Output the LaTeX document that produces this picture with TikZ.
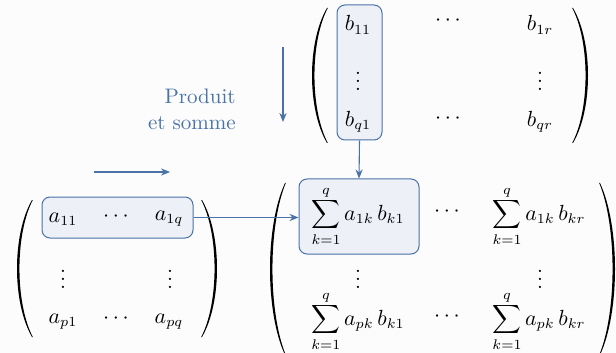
\documentclass[tikz,border=0pt]{standalone}
\usetikzlibrary{arrows.meta}
\definecolor{bl}{HTML}{4A72A6}
\definecolor{hl}{HTML}{EDF0F6}
\definecolor{bg}{HTML}{FCFCFD}
% left paren: #1 tip x, #2 top y, #3 bottom y
\newcommand\myLP[3]{%
  \fill (#1,#2) .. controls (#1-20,{#2+0.25*(#3-#2)}) and (#1-20,{#3-0.25*(#3-#2)}) .. (#1,#3)
    -- (#1+0.8,#3) .. controls (#1-17,{#3-0.25*(#3-#2)}) and (#1-17,{#2+0.25*(#3-#2)}) .. (#1+0.8,#2) -- cycle;}
\newcommand\myRP[3]{%
  \fill (#1,#2) .. controls (#1+20,{#2+0.25*(#3-#2)}) and (#1+20,{#3-0.25*(#3-#2)}) .. (#1,#3)
    -- (#1-0.8,#3) .. controls (#1+17,{#3-0.25*(#3-#2)}) and (#1+17,{#2+0.25*(#3-#2)}) .. (#1-0.8,#2) -- cycle;}
\begin{document}
\begin{tikzpicture}[x=0.5pt,y=-0.5pt,
  hlbox/.style={draw=bl, fill=hl, rounded corners=4pt, line width=0.5pt, inner sep=0pt},
  ent/.style={inner sep=0pt, font=\fontsize{10.5}{12}\selectfont},
  conn/.style={draw=bl, line width=0.55pt, -{Stealth[length=4.5pt,width=3.6pt]}},
  lbl/.style={text=bl, inner sep=0pt, align=right, font=\fontsize{10.5}{13}\selectfont},
  ]
\fill[bg] (0,0) rectangle (616,353);
\useasboundingbox (0,0) rectangle (616,353);

% highlight boxes
\node[hlbox, minimum width=75.5pt, minimum height=20.5pt] (rowA) at (117.5,217.5) {};
\node[hlbox, minimum width=22.5pt, minimum height=67.5pt] (colB) at (359.5,72.5) {};
\node[hlbox, minimum width=60pt, minimum height=37.5pt] (sumC) at (359,216.5) {};

% matrix A
\node[ent] (a11) at (63,219) {$a_{11}$};
\node[ent] (ad1) at (116,217) {$\cdots$};
\node[ent] (a1q) at (169,219) {$a_{1q}$};
\node[ent] (av1) at (63,273) {$\vdots$};
\node[ent] (avq) at (170,273) {$\vdots$};
\node[ent] (ap1) at (63,322) {$a_{p1}$};
\node[ent] (adp) at (116,319) {$\cdots$};
\node[ent] (apq) at (169,322) {$a_{pq}$};
\myLP{32}{200}{337}
\myRP{202}{200}{337}

% matrix B
\node[ent] (b11) at (358,25) {$b_{11}$};
\node[ent] (bd1) at (448,21) {$\cdots$};
\node[ent] (b1r) at (540,25) {$b_{1r}$};
\node[ent] (bv1) at (358,75) {$\vdots$};
\node[ent] (bvr) at (540,75) {$\vdots$};
\node[ent] (bq1) at (358,122) {$b_{q1}$};
\node[ent] (bdq) at (448,119) {$\cdots$};
\node[ent] (bqr) at (540,122) {$b_{qr}$};
\myLP{327}{8}{143}
\myRP{573}{8}{143}

% matrix C
\node[ent] (c11) at (358,216) {$\displaystyle\sum_{k=1}^{q} a_{1k}\,b_{k1}$};
\node[ent] (cd1) at (447,212) {$\cdots$};
\node[ent] (c1r) at (539,216) {$\displaystyle\sum_{k=1}^{q} a_{1k}\,b_{kr}$};
\node[ent] (cv1) at (358,273) {$\vdots$};
\node[ent] (cvr) at (540,273) {$\vdots$};
\node[ent] (cp1) at (358,321) {$\displaystyle\sum_{k=1}^{q} a_{pk}\,b_{k1}$};
\node[ent] (cdp) at (447,317) {$\cdots$};
\node[ent] (cpr) at (539,321) {$\displaystyle\sum_{k=1}^{q} a_{pk}\,b_{kr}$};
\myLP{285}{183}{355}
\myRP{600}{183}{355}

% label and direction arrows
\node[lbl, anchor=east] (txt) at (236,109) {Produit\\et somme};
\coordinate (h1) at (94,172);
\coordinate (h2) at (170,172);
\coordinate (v1) at (283,47);
\coordinate (v2) at (283,122);
\draw[conn] (h1) -- (h2);
\draw[conn] (v1) -- (v2);

% connectors
\draw[conn] (rowA.east) -- (rowA.east -| sumC.west);
\draw[conn] (colB.south) -- (sumC.north);
\end{tikzpicture}
\end{document}
